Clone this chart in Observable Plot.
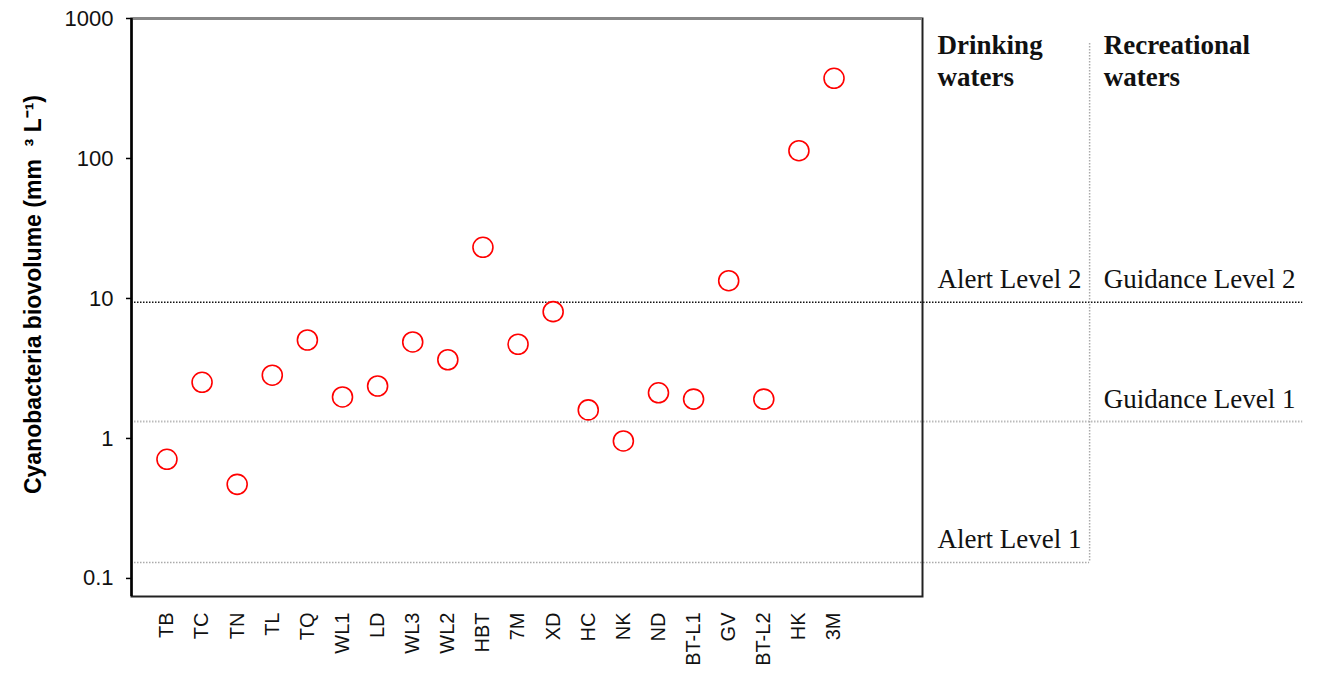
<!DOCTYPE html>
<html>
<head>
<meta charset="utf-8">
<script src="https://cdn.jsdelivr.net/npm/d3@7"></script>
<script src="https://cdn.jsdelivr.net/npm/@observablehq/plot@0.6"></script>
<style>
  html, body { margin: 0; padding: 0; background: white; }
</style>
</head>
<body>
<div id="chart"></div>
<script>
// ---- data ----
const sites = ["TB","TC","TN","TL","TQ","WL1","LD","WL3","WL2","HBT","7M","XD","HC","NK","ND","BT-L1","GV","BT-L2","HK","3M"];
const biovolume = [0.71, 2.52, 0.47, 2.83, 5.05, 1.98, 2.37, 4.89, 3.65, 23.2, 4.71, 8.05, 1.60, 0.96, 2.12, 1.91, 13.4, 1.91, 113.7, 374];
const yTicks = [0.1, 1, 10, 100, 1000];
const yTickLabels = ["0.1", "1", "10", "100", "1000"];
const levelValues = [9.4, 1.32, 0.13];
const drinkingLabels = ["Alert Level 2", "", "Alert Level 1"];
const recreationalLabels = ["Guidance Level 2", "Guidance Level 1", ""];
const headers = ["Drinking\nwaters", "Recreational\nwaters"];
const yTitle = "Cyanobacteria biovolume (mm  \u00B3 L\u207B\u00B9)";

// ---- layout (x in site-index units) ----
const xMin = -1.01, xMax = 21.52;
const drinkingCol = 21.95, recreationalCol = 26.68, dividerX = 26.28, lineEnd = 32.35;
const sans = "Liberation Sans, Arial, sans-serif";
const serif = "Liberation Serif, Times New Roman, serif";

const chart = Plot.plot({
  width: 1327,
  height: 678,
  marginLeft: 131,
  marginRight: 405,
  marginTop: 18,
  marginBottom: 82,
  style: { background: "white", overflow: "visible" },
  x: { type: "linear", domain: [xMin, xMax] },
  y: { type: "log", domain: [0.0743, 1000] },
  marks: [
    // threshold lines
    Plot.ruleY([levelValues[0]], { x1: xMin, x2: lineEnd, stroke: "#111", strokeWidth: 1.5, strokeDasharray: "1.5,1.5" }),
    Plot.ruleY([levelValues[1]], { x1: xMin, x2: lineEnd, stroke: "#bbb", strokeWidth: 2, strokeDasharray: "1.5,1.5" }),
    Plot.ruleY([levelValues[2]], { x1: xMin, x2: dividerX, stroke: "#aaa", strokeWidth: 1.5, strokeDasharray: "1.5,1.5" }),
    Plot.ruleX([dividerX], { y1: 663, y2: levelValues[2], stroke: "#aaa", strokeWidth: 1.5, strokeDasharray: "1.5,1.5" }),
    // frame
    Plot.frame({ stroke: "#222", strokeWidth: 2 }),
    Plot.ruleY([1000], { stroke: "#888", strokeWidth: 3 }),
    Plot.ruleX([xMin], { stroke: "#000", strokeWidth: 2.5 }),
    // axes
    Plot.axisY(yTicks, {
      tickSize: 5, tickPadding: 13, fontSize: 22, fontFamily: sans,
      tickFormat: (d, i) => yTickLabels[yTicks.indexOf(d)], label: null,
      stroke: "#000", strokeWidth: 1.5, fill: "#111"
    }),
    Plot.axisX(d3.range(sites.length), {
      tickSize: 0, tickPadding: 16, tickRotate: -90, fontSize: 20, fontFamily: sans,
      tickFormat: i => sites[i], label: null, fill: "#111"
    }),
    // y title
    Plot.text([yTitle], {
      frameAnchor: "left", text: d => d, dx: -98, dy: -13, rotate: -90,
      fontSize: 23, fontWeight: "bold", fontFamily: sans, fill: "#000",
      textAnchor: "middle", lineAnchor: "middle"
    }),
    // points
    Plot.dot(biovolume, { x: (d, i) => i, y: d => d, r: 10, stroke: "#ff0000", strokeWidth: 1.6, fill: "white" }),
    // annotations
    Plot.text(levelValues, {
      x: drinkingCol, y: d => d, text: (d, i) => drinkingLabels[i],
      textAnchor: "start", lineAnchor: "bottom", dy: -14,
      fontSize: 27, fontFamily: serif, fill: "#111"
    }),
    Plot.text(levelValues, {
      x: recreationalCol, y: d => d, text: (d, i) => recreationalLabels[i],
      textAnchor: "start", lineAnchor: "bottom", dy: -14,
      fontSize: 27, fontFamily: serif, fill: "#111"
    }),
    Plot.text(headers, {
      x: (d, i) => i === 0 ? drinkingCol : recreationalCol, frameAnchor: "top", text: d => d,
      textAnchor: "start", lineAnchor: "bottom", dy: 67, lineHeight: 1.185,
      fontSize: 27, fontWeight: "bold", fontFamily: serif, fill: "#111"
    })
  ]
});
document.getElementById("chart").appendChild(chart);
</script>
</body>
</html>
